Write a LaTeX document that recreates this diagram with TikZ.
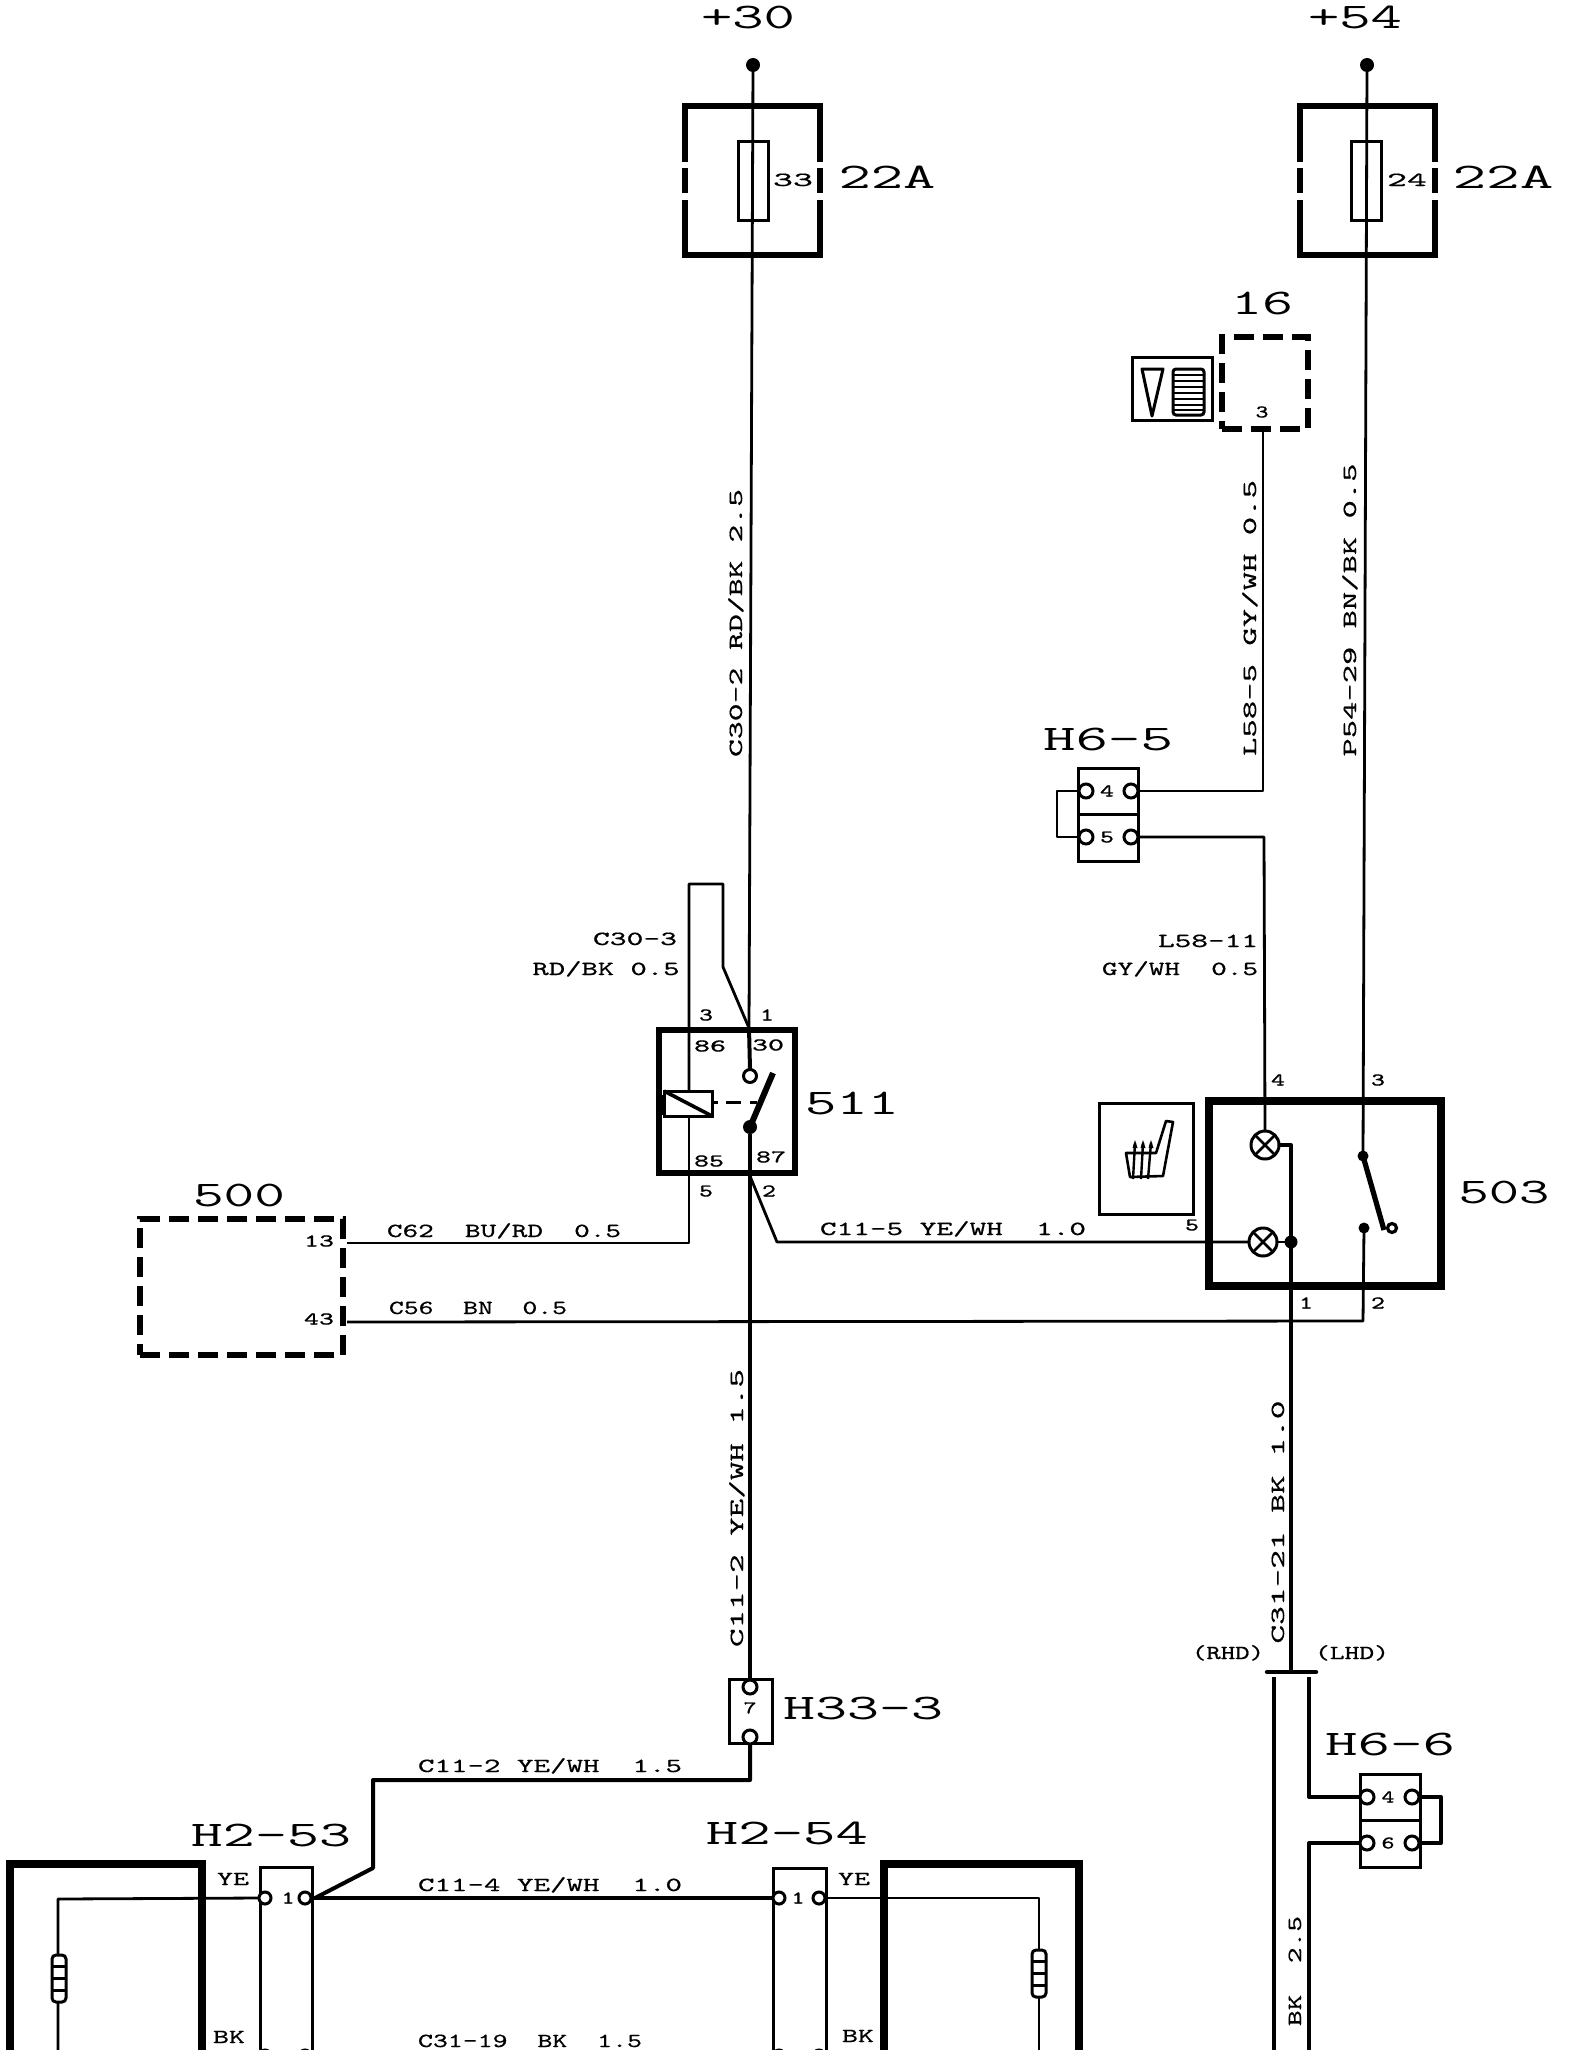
\documentclass[tikz,border=0pt]{standalone}
\usepackage{graphicx}
\usepackage{fontspec}
\newfontfamily\fS[FakeBold=0.5]{Latin Modern Mono}
\newfontfamily\fL{Latin Modern Mono}
\newcommand\lS[2]{\resizebox{\dimexpr#1pt/2\relax}{\height}{\fS\fontsize{10pt}{10pt}\selectfont #2}}
\newcommand\lM[2]{\resizebox{\dimexpr#1pt/2\relax}{\height}{\fS\fontsize{9pt}{9pt}\selectfont #2}}
\newcommand\lB[2]{\resizebox{\dimexpr#1pt/2\relax}{\height}{\fL\fontsize{18pt}{18pt}\selectfont #2}}
\tikzset{
  x=0.5pt,y=-0.5pt,
  ts/.style={inner sep=0pt,outer sep=0pt,text height=6pt,text depth=0pt},
  tm/.style={inner sep=0pt,outer sep=0pt,text height=5.5pt,text depth=0pt},
  tl/.style={inner sep=0pt,outer sep=0pt,text height=11pt,text depth=0pt},
  sz/.style 2 args={minimum width=#1*0.5pt,minimum height=#2*0.5pt,inner sep=0pt,outer sep=0pt},
  wire/.style={line width=1.4pt,line join=round},
  thickwire/.style={line width=2pt,line join=round},
  plug/.style={draw,line width=1.5pt,circle,minimum size=7pt,inner sep=0pt,outer sep=0pt,fill=white},
  jdot/.style={circle,fill=black,minimum size=7pt,inner sep=0pt,outer sep=0pt},
  lamp/.style={draw,line width=1.5pt,circle,minimum size=14pt,inner sep=0pt,outer sep=0pt,fill=white},
  cbox/.style={draw,line width=1.5pt,inner sep=0pt,outer sep=0pt},
  dbox/.style={draw,line width=3pt,dash pattern=on 10pt off 4.5pt,inner sep=0pt,outer sep=0pt},
  hbox/.style={draw,line width=3pt,inner sep=0pt,outer sep=0pt},
}
\begin{document}
\begin{tikzpicture}
\useasboundingbox[fill=white] (0,0) rectangle (1584,2050);
\begin{scope}
\clip (0,0) rectangle (1584,2050);
% ---- coordinates
\coordinate (a30) at (753,65);
\coordinate (a54) at (1367,65);
\coordinate (rdot) at (750,1127);
\coordinate (bl) at (689,884);
\coordinate (br) at (723,884);
\coordinate (bd) at (723,967);
\coordinate (rtop) at (749,1028);
\coordinate (c1) at (689,1243);
\coordinate (c11a) at (750,1176);
\coordinate (c11b) at (777,1242);
\coordinate (h1) at (750,1780);
\coordinate (h2) at (373,1780);
\coordinate (h3) at (373,1868);
\coordinate (j53) at (315,1898);
% ---- fuses
\node[hbox,sz={135}{149}] (f1) at (752.5,180.5) {};
\node[hbox,sz={135}{149}] (f2) at (1367,180.5) {};
\foreach \a in {685,820,1299.5,1434.5}{
  \draw[white,line width=3.6pt] (\a,162)--(\a,168);
  \draw[white,line width=3.6pt] (\a,193)--(\a,200);
}
\node[cbox,sz={30}{78},fill=white] (fu1) at (753,181) {};
\node[cbox,sz={30}{78},fill=white] (fu2) at (1366,181) {};
\fill (a30) circle (3.5pt);
\fill (a54) circle (3.5pt);
% ---- relay 511
\node[draw,line width=3pt,sz={136}{143},inner sep=0pt] (r511) at (727,1101.5) {};
\fill (656,1095) rectangle (664,1115);
\node[cbox,sz={48}{25},fill=white] (coil) at (688,1103.5) {};
\draw[line width=1.8pt] (coil.north west)--(coil.south east);
\draw[line width=1.5pt] (713,1102)--(718,1102) (726,1102)--(741,1102) (750,1102)--(757,1102);
\node[plug,minimum size=6.5pt] (c30) at (750,1076) {};
\node[jdot] (c87) at (rdot) {};
\draw[line width=3pt] (c87.center)--(773,1073);
% ---- 500
\node[dbox,sz={203}{136}] (u500) at (241.5,1287) {};
% ---- 16
\node[dbox,sz={86}{92}] (u16) at (1265,383) {};
\node[cbox,sz={80}{63}] (i16) at (1172,388.5) {};
\draw[line width=1.5pt,line join=round] (1142,369)--(1163,369)--(1152,416)--cycle;
\draw[line width=1.5pt,rounded corners=1.5pt] (1173,369) rectangle (1204,415);
\foreach \y in {375,381,387,393,399,405,410}{\draw[line width=1.2pt] (1173,\y)--(1204,\y);}
% ---- H6-5
\node[cbox,sz={60}{46}] (h65a) at (1108,791) {};
\node[cbox,sz={60}{47}] (h65b) at (1108,837.5) {};
\node[plug] (h65al) at (1086,791) {};
\node[plug] (h65ar) at (1131,791) {};
\node[plug] (h65bl) at (1086,837) {};
\node[plug] (h65br) at (1131,837) {};
% ---- 503
\node[draw,line width=4pt,sz={232}{185}] (u503) at (1325,1193.5) {};
\node[lamp] (l1) at (1265,1145) {};
\node[lamp] (l2) at (1263,1242) {};
\foreach \l in {l1,l2}{
  \draw[line width=1.3pt] (\l.north west)--(\l.south east) (\l.north east)--(\l.south west);
}
\node[jdot,minimum size=6.5pt] (j503) at (1291,1242) {};
\node[jdot,minimum size=5.5pt] (s1) at (1363,1156) {};
\node[jdot,minimum size=5.5pt] (s2) at (1364,1228) {};
\draw[line width=2.6pt] (s1.center)--(1384,1230);
\node[plug,line width=1.6pt,minimum size=4.5pt] (s3) at (1392,1228) {};
% ---- seat icon
\node[cbox,sz={94}{111}] (seat) at (1146,1158.5) {};
\draw[line width=1.3pt,line join=round] (1156,1153)--(1126,1153)--(1130,1177)--(1163,1176)--(1173,1122)--(1166,1121)--cycle;
\foreach \x/\xx in {1135/1133,1143/1141,1151/1148}{
  \draw[line width=1.2pt] (\x,1143)--(\xx,1179);
  \fill (\x-2.5,1148)--(\x,1140)--(\x+2.5,1148)--cycle;
}
% ---- H33-3
\node[cbox,sz={43}{64}] (h33) at (750.5,1711) {};
\node[plug] (h33a) at (750,1687) {};
\node[plug] (h33b) at (750,1737) {};
% ---- H2-53 / H2-54
\node[cbox,sz={52}{220}] (h53) at (286,1977) {};
\node[cbox,sz={53}{220}] (h54) at (799.5,1978) {};
\node[plug,minimum size=6pt] (h53l) at (265,1898) {};
\node[plug,minimum size=6pt] (h53r) at (305,1898) {};
\node[plug,minimum size=6pt] (h54l) at (779,1898) {};
\node[plug,minimum size=6pt] (h54r) at (819,1898) {};
\node[plug,minimum size=6pt] (h53l2) at (265,2056) {};
\node[plug,minimum size=6pt] (h53r2) at (305,2056) {};
\node[plug,minimum size=6pt] (h54l2) at (779,2056) {};
\node[plug,minimum size=6pt] (h54r2) at (819,2056) {};
\node[draw,line width=3.8pt,sz={192}{400}] (uL) at (106,2064) {};
\node[draw,line width=3.8pt,sz={195}{400}] (uR) at (981.5,2064) {};
\coordinate (rL0) at (58,1899);
\coordinate (rLb) at (58,2060);
\coordinate (rR0) at (1039,1898);
\coordinate (rRb) at (1039,2060);
% ---- H6-6
\node[cbox,sz={60}{46}] (h66a) at (1390,1797) {};
\node[cbox,sz={60}{47}] (h66b) at (1390,1843.5) {};
\node[plug] (h66al) at (1367,1797) {};
\node[plug] (h66ar) at (1412,1797) {};
\node[plug] (h66bl) at (1367,1843) {};
\node[plug] (h66br) at (1412,1843) {};
% ---- RHD/LHD
\coordinate (bar1) at (1267,1672);
\coordinate (bar2) at (1316,1672);
\draw[line width=2.2pt,line cap=round] (bar1)--(bar2);
% ---- wires
\draw[wire] (a30)--(rtop);
\draw[wire] (a54)--(s1.center);
\draw[thickwire] (rtop)--(c30.north);
\draw[wire] (coil.north-|bl)--(bl)--(br)--(bd)--(rtop);
\draw[thickwire] (c87.south)--(c11a)--(h33a.north);
\draw[wire] (coil.south-|bl)--(c1)--(347,1243);
\draw[wire] (c11a)--(c11b)--(l2.west);
\draw[thickwire] (h33b.south)--(h1)--(h2)--(h3)--(j53);
\draw[thickwire] (h53r.east)--(h54l.west);
\draw[wire] (h54r.east)--(rR0)--(rRb);
\draw[wire] (h53l.west)--(rL0)--(rLb);
\draw[wire] (1263,429)--(1263,791)--(h65ar.east);
\draw[wire] (h65br.east)--(1264,837)--(l1.north);
\draw[wire] (h65al.west)--(1057,791)--(1057,837)--(h65bl.west);
\draw[thickwire] (l1.east)--(1291,1145)--(j503.center)--(1291,1670);
\draw[wire] (l2.east)--(j503);
\draw[wire] (s2.center)--(1363,1321)--(347,1322);
\draw[thickwire] (1274,1677)--(1274,2050);
\draw[thickwire] (1309,1677)--(1309,1797)--(h66al.west);
\draw[thickwire] (h66bl.west)--(1309,1843)--(1309,2050);
\draw[thickwire] (h66ar.east)--(1441,1797)--(1441,1843)--(h66br.east);
% resistors on top
\foreach \x/\y in {59/1955,1039/1950}{
  \draw[line width=1.5pt,rounded corners=2pt,fill=white] (\x-7,\y) rectangle (\x+7,\y+47);
  \foreach \k in {1,2,3}{\draw[line width=1.5pt] (\x-7,\y+\k*11.75)--(\x+7,\y+\k*11.75);}
}
% ---- texts big
\node[tl] (t30) at (748,18) {\lB{94}{+30}};
\node[tl] (t54) at (1355,18) {\lB{94}{+54}};
\node[tl] (t22a) at (887,177) {\lB{97}{22A}};
\node[tl] (t22b) at (1503,177) {\lB{101}{22A}};
\node[tl] (t16) at (1262,303) {\lB{62}{16}};
\node[tl] (th65) at (1108,739) {\lB{130}{H6-5}};
\node[tl] (t511) at (852,1103) {\lB{94}{511}};
\node[tl] (t503) at (1504,1192) {\lB{91}{503}};
\node[tl] (t500) at (239,1195) {\lB{92}{500}};
\node[tl] (th33) at (863,1708) {\lB{160}{H33-3}};
\node[tl] (th66) at (1390,1744) {\lB{130}{H6-6}};
\node[tl] (th53) at (271,1835) {\lB{160}{H2-53}};
\node[tl] (th54) at (787,1833) {\lB{162}{H2-54}};
% ---- wire labels
\node[ts,rotate=90] (w1) at (736,623) {\lS{268}{C30-2 RD/BK 2.5}};
\node[ts,rotate=90] (w2) at (1250,618) {\lS{276}{L58-5 GY/WH 0.5}};
\node[ts,rotate=90] (w3) at (1350,610) {\lS{293}{P54-29 BN/BK 0.5}};
\node[ts,rotate=90] (w4) at (737,1508) {\lS{278}{C11-2 YE/WH 1.5}};
\node[ts,rotate=90] (w5) at (1278,1522) {\lS{243}{C31-21 BK 1.0}};
\node[ts,rotate=90] (w6) at (1295,1971) {\lS{110}{BK \ 2.5}};
\node[ts] (w7) at (635,939) {\lS{84}{C30-3}};
\node[ts] (w8) at (606,969) {\lS{147}{RD/BK 0.5}};
\node[ts] (w9) at (1208,941) {\lS{100}{L58-11}};
\node[ts] (w10) at (1180,969) {\lS{156}{GY/WH \ 0.5}};
\node[ts] (w11) at (953,1229) {\lS{266}{C11-5 YE/WH \ 1.0}};
\node[ts] (w12) at (504,1231) {\lS{234}{C62 \ BU/RD \ 0.5}};
\node[ts] (w13) at (478,1308) {\lS{178}{C56 \ BN \ 0.5}};
\node[ts] (w14) at (550,1766) {\lS{264}{C11-2 YE/WH \ 1.5}};
\node[ts] (w15) at (550,1885) {\lS{264}{C11-4 YE/WH \ 1.0}};
\node[ts] (w16) at (530,2041) {\lS{224}{C31-19 \ BK \ 1.5}};
\node[ts] (w17) at (1228,1653) {\lS{72}{(RHD)}};
\node[ts] (w18) at (1352,1653) {\lS{74}{(LHD)}};
\node[ts] (w19) at (233,1879) {\lS{32}{YE}};
\node[ts] (w20) at (229,2037) {\lS{32}{BK}};
\node[ts] (w21) at (854,1879) {\lS{32}{YE}};
\node[ts] (w22) at (858,2036) {\lS{32}{BK}};
% ---- pin labels
\node[ts] (p1) at (793,180) {\lS{40}{33}};
\node[ts] (p2) at (1407,180) {\lS{40}{24}};
\node[tm] (p3) at (1262,412) {\lM{13}{3}};
\node[tm] (p4) at (1107,791) {\lM{14}{4}};
\node[tm] (p5) at (1107,837) {\lM{14}{5}};
\node[tm] (p6) at (706,1015) {\lM{14}{3}};
\node[tm] (p7) at (767,1015) {\lM{14}{1}};
\node[tm] (p8) at (710,1046) {\lM{32}{86}};
\node[tm] (p9) at (768,1045) {\lM{32}{30}};
\node[tm] (p10) at (709,1161) {\lM{30}{85}};
\node[tm] (p11) at (771,1157) {\lM{30}{87}};
\node[tm] (p12) at (706,1191) {\lM{14}{5}};
\node[tm] (p13) at (769,1191) {\lM{14}{2}};
\node[tm] (p14) at (1278,1080) {\lM{14}{4}};
\node[tm] (p15) at (1378,1080) {\lM{14}{3}};
\node[tm] (p16) at (1306,1303) {\lM{14}{1}};
\node[tm] (p17) at (1378,1303) {\lM{14}{2}};
\node[tm] (p18) at (1192,1225) {\lM{14}{5}};
\node[tm] (p19) at (319,1241) {\lM{30}{13}};
\node[tm] (p20) at (319,1319) {\lM{30}{43}};
\node[tm] (p21) at (750,1708) {\lM{13}{7}};
\node[tm] (p22) at (288,1898) {\lM{13}{1}};
\node[tm] (p23) at (798,1898) {\lM{13}{1}};
\node[tm] (p24) at (1388,1797) {\lM{13}{4}};
\node[tm] (p25) at (1388,1843) {\lM{13}{6}};
\end{scope}
\end{tikzpicture}
\end{document}
